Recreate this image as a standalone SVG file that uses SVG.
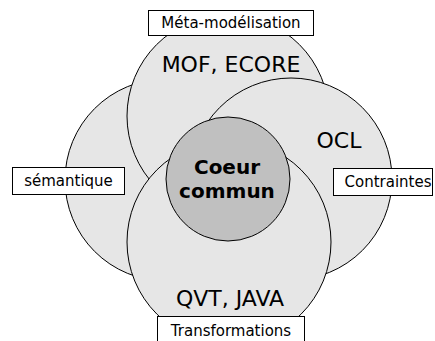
<svg xmlns="http://www.w3.org/2000/svg" width="435" height="341" viewBox="0 0 435 341">
  <style>
    .area { fill: #e6e6e6; stroke: #000; stroke-width: 1; }
    .core { fill: #c0c0c0; stroke: #000; stroke-width: 1; }
    .big { font-family: "DejaVu Sans", sans-serif; font-size: 22px; fill: #000; text-anchor: middle; }
    .core-text { font-family: "DejaVu Sans", sans-serif; font-size: 20px; font-weight: bold; fill: #000; text-anchor: middle; }
    .tag rect { fill: #fff; stroke: #000; stroke-width: 1; }
    .tag text { font-family: "DejaVu Sans", sans-serif; font-size: 15px; fill: #000; text-anchor: middle; }
  </style>

  <!-- overlapping domains, back to front -->
  <g id="semantique">
    <circle class="area" cx="166" cy="180" r="101"/>
  </g>
  <g id="meta-modelisation">
    <circle class="area" cx="228" cy="116" r="101"/>
    <text class="big" x="231" y="72">MOF, ECORE</text>
  </g>
  <g id="contraintes">
    <circle class="area" cx="291" cy="179" r="101"/>
    <text class="big" x="339" y="148">OCL</text>
  </g>
  <g id="transformations">
    <circle class="area" cx="229" cy="242" r="102"/>
    <text class="big" x="230" y="306">QVT, JAVA</text>
  </g>
  <g id="coeur">
    <circle class="core" cx="228" cy="179" r="62"/>
    <text class="core-text" x="227" y="174">Coeur</text>
    <text class="core-text" x="227" y="198">commun</text>
  </g>

  <!-- captions -->
  <g id="tag-meta" class="tag">
    <rect x="148.5" y="10.5" width="165" height="25"/>
    <text x="231" y="28">Méta-modélisation</text>
  </g>
  <g id="tag-semantique" class="tag">
    <rect x="12.5" y="167.5" width="112" height="27"/>
    <text x="68.5" y="186">sémantique</text>
  </g>
  <g id="tag-contraintes" class="tag">
    <rect x="333.5" y="168.5" width="99" height="27"/>
    <text x="388" y="187">Contraintes</text>
  </g>
  <g id="tag-transformations" class="tag">
    <rect x="157.5" y="316.5" width="147" height="30"/>
    <text x="231" y="336">Transformations</text>
  </g>

  <g id="connectors"/>
</svg>
